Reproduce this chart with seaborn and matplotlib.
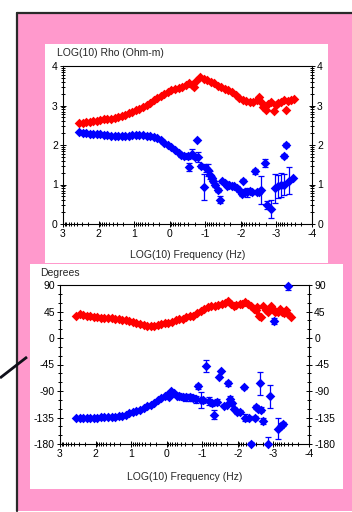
import numpy as np
import pandas as pd
import matplotlib
matplotlib.use("Agg")
import matplotlib.pyplot as plt
import seaborn as sns
from matplotlib.patches import Rectangle
from matplotlib.lines import Line2D
from matplotlib.ticker import FixedLocator, MultipleLocator

# ---------------- data ----------------
# Top panel: LOG(10) apparent resistivity, red mode
rho_red_freq = [2.55, 2.45, 2.35, 2.25, 2.15, 2.05, 1.95, 1.85, 1.75, 1.65, 1.55, 1.45, 1.35,
                1.25, 1.15, 1.05, 0.95, 0.85, 0.75, 0.65, 0.55, 0.45, 0.35, 0.25, 0.15, 0.05,
                -0.05, -0.15, -0.25, -0.35, -0.45, -0.55, -0.62, -0.68, -0.75, -0.85, -0.95,
                -1.05, -1.15, -1.25, -1.35, -1.45, -1.55, -1.65, -1.75, -1.85, -1.95, -2.05,
                -2.15, -2.25, -2.35, -2.45, -2.50, -2.58, -2.62, -2.70, -2.76, -2.85, -2.92,
                -2.98, -3.05, -3.12, -3.20, -3.28, -3.32, -3.40, -3.48]
rho_red = [2.55, 2.56, 2.57, 2.58, 2.60, 2.62, 2.64, 2.65, 2.66, 2.67, 2.68, 2.71, 2.74,
           2.77, 2.80, 2.84, 2.88, 2.92, 2.96, 3.01, 3.07, 3.13, 3.19, 3.24, 3.29, 3.34,
           3.38, 3.42, 3.44, 3.47, 3.52, 3.58, 3.52, 3.48, 3.62, 3.72, 3.68,
           3.64, 3.60, 3.58, 3.50, 3.46, 3.42, 3.38, 3.33, 3.26, 3.18, 3.14,
           3.12, 3.10, 3.08, 3.15, 3.22, 3.08, 2.95, 2.88, 3.05, 3.08, 2.85,
           3.02, 3.06, 3.10, 3.13, 2.88, 3.12, 3.14, 3.16]

# Top panel: blue mode with error bars
rho_blue_freq = [2.55, 2.45, 2.35, 2.25, 2.15, 2.05, 1.95, 1.85, 1.75, 1.65, 1.55, 1.45, 1.35,
                 1.25, 1.15, 1.05, 0.95, 0.85, 0.75, 0.65, 0.55, 0.45, 0.35, 0.25, 0.15, 0.05,
                 -0.05, -0.15, -0.25, -0.32, -0.40, -0.50, -0.55, -0.64, -0.72, -0.76, -0.80,
                 -0.88, -0.97, -1.02, -1.07, -1.13, -1.18, -1.23, -1.27, -1.35, -1.42, -1.48,
                 -1.55, -1.62, -1.68, -1.75, -1.82, -1.88, -1.95, -2.02, -2.07, -2.12, -2.18,
                 -2.25, -2.32, -2.40, -2.45, -2.52, -2.58, -2.68, -2.73, -2.86, -2.96, -3.05,
                 -3.13, -3.20, -3.22, -3.26, -3.34, -3.46]
rho_blue = [2.33, 2.31, 2.30, 2.29, 2.28, 2.28, 2.27, 2.26, 2.25, 2.24, 2.23, 2.23, 2.23,
            2.24, 2.24, 2.25, 2.25, 2.25, 2.25, 2.24, 2.23, 2.21, 2.18, 2.12, 2.06, 2.00,
            1.95, 1.88, 1.80, 1.74, 1.72, 1.72, 1.45, 1.78, 1.70, 2.13, 1.70,
            1.48, 0.93, 1.42, 1.36, 1.25, 1.17, 1.10, 0.99, 0.85, 0.62, 1.08,
            1.05, 0.97, 1.00, 0.95, 0.96, 0.92, 0.85, 0.76, 1.10, 0.82, 0.80,
            0.84, 0.80, 1.33, 0.82, 0.80, 0.86, 1.55, 0.47, 0.38, 0.90, 0.95,
            0.98, 1.00, 1.72, 2.00, 1.10, 1.17]
rho_blue_err = [0, 0, 0, 0, 0, 0, 0, 0, 0, 0, 0, 0, 0,
                0, 0, 0, 0, 0, 0, 0, 0, 0, 0, 0, 0, 0,
                0, 0, 0, 0.05, 0.05, 0.08, 0.10, 0.12, 0.05, 0, 0.12,
                0.05, 0.33, 0.10, 0.15, 0.10, 0.05, 0.05, 0.05, 0.05, 0.08, 0.03,
                0.03, 0.03, 0.03, 0.03, 0.03, 0.03, 0.03, 0.05, 0.04, 0.06, 0.12,
                0.05, 0.05, 0.06, 0.05, 0.05, 0.36, 0.10, 0.10, 0.22, 0.36, 0.30,
                0.30, 0.27, 0.05, 0.05, 0.34, 0]

# Bottom panel: phase (degrees), red mode
ph_red_freq = [2.55, 2.45, 2.35, 2.25, 2.15, 2.05, 1.95, 1.85, 1.75, 1.65, 1.55, 1.45, 1.35,
               1.25, 1.15, 1.05, 0.95, 0.85, 0.75, 0.65, 0.55, 0.45, 0.35, 0.25, 0.15, 0.05,
               -0.05, -0.15, -0.25, -0.35, -0.45, -0.55, -0.65, -0.75, -0.85, -0.95, -1.05,
               -1.15, -1.25, -1.35, -1.45, -1.55, -1.65, -1.72, -1.80, -1.88, -1.95, -2.05,
               -2.12, -2.20, -2.28, -2.36, -2.44, -2.50, -2.55, -2.60, -2.66, -2.72, -2.80,
               -2.86, -2.92, -2.98, -3.05, -3.12, -3.18, -3.25, -3.30, -3.36, -3.42, -3.48]
ph_red = [38, 40, 39, 37.5, 37, 36, 35, 34.5, 34.5, 34, 34, 33, 32,
          31, 30, 28.5, 27, 25, 23.5, 22, 21, 20.5, 21, 22.5, 24, 25,
          26, 28, 30, 31.5, 33, 35, 37, 38, 42, 46, 50,
          52, 54, 55, 56, 57, 60, 63, 57, 55, 56, 57,
          58, 61, 57, 54, 50, 47, 53, 37, 35, 54, 47,
          45, 55, 50, 44, 45, 49, 44, 42, 47, 40, 36]

# Bottom panel: phase (degrees), blue mode with error bars
ph_blue_freq = [2.55, 2.45, 2.35, 2.25, 2.15, 2.05, 1.95, 1.85, 1.75, 1.65, 1.55, 1.45, 1.35,
                1.25, 1.15, 1.05, 0.95, 0.85, 0.75, 0.65, 0.55, 0.45, 0.35, 0.25, 0.15, 0.05,
                -0.02, -0.06, -0.13, -0.20, -0.28, -0.35, -0.45, -0.55, -0.65, -0.75, -0.82,
                -0.89, -0.95, -1.02, -1.11, -1.20, -1.28, -1.34, -1.42, -1.47, -1.54, -1.62,
                -1.70, -1.73, -1.79, -1.84, -1.90, -1.97, -2.07, -2.16, -2.21, -2.30, -2.38,
                -2.47, -2.52, -2.57, -2.61, -2.66, -2.72, -2.84, -2.89, -3.03, -3.12, -3.20,
                -3.26, -3.42]
ph_blue = [-136, -136, -136, -135.5, -135.5, -135.5, -135, -134, -134, -134, -133.5, -133.5, -133,
           -132, -130, -128, -126.5, -124, -121.5, -119, -116, -113, -110, -106, -102, -98,
           -96, -101, -90, -94, -98, -99, -100, -101, -101, -102, -104,
           -82, -105, -106, -48, -107, -110, -130, -109, -67, -56, -115,
           -113, -77, -104, -111, -120, -126, -125, -84, -135, -135, -180,
           -136, -117, -120, -77, -122, -141, -180, -99, 29, -154, -149,
           -146, 88]
ph_blue_err = [0, 0, 0, 0, 0, 0, 0, 0, 0, 0, 0, 0, 0,
               0, 0, 0, 0, 0, 0, 0, 0, 0, 0, 0, 0, 0,
               0, 0, 0, 0, 0, 5, 5, 6, 6, 5, 6,
               4, 14, 4, 10, 6, 5, 8, 5, 0, 0, 3,
               3, 4, 5, 3, 3, 3, 3, 3, 6, 3, 4,
               3, 3, 3, 20, 4, 5, 12, 20, 5, 18, 4,
               3, 6]

freq_ticks = [3, 2, 1, 0, -1, -2, -3, -4]
rho_ticks = [0, 1, 2, 3, 4]
phase_ticks = [-180, -135, -90, -45, 0, 45, 90]

# ---------------- styling ----------------
sns.set_style("white")
plt.rcParams['font.family'] = ['Liberation Sans', 'DejaVu Sans']
plt.rcParams['axes.unicode_minus'] = False

W, H = 352.0, 512.0
RED = '#FF0000'
BLUE = '#0000FF'
PINK = '#FF99CC'
FS = 7.5
MS = 24

fig = plt.figure(figsize=(3.52, 5.12), dpi=100)
fig.patch.set_facecolor('white')


def fx(px):
    return px / W


def fy(py):
    return 1 - py / H


def rect(x0, y0, x1, y1, color, z):
    fig.add_artist(Rectangle((fx(x0), fy(y1)), fx(x1) - fx(x0), fy(y0) - fy(y1),
                             transform=fig.transFigure, facecolor=color,
                             edgecolor='none', zorder=z))


# pink frame with dark border (top and left)
rect(17, 13, 352, 511, PINK, -20)
fig.add_artist(Line2D([fx(17), fx(352)], [fy(13), fy(13)], transform=fig.transFigure,
                      color='#2a2a2a', lw=1.6, zorder=5))
fig.add_artist(Line2D([fx(17), fx(17)], [fy(13), fy(511)], transform=fig.transFigure,
                      color='#2a2a2a', lw=1.6, zorder=5))
# white panels
rect(45, 44, 328, 263, 'white', -10)
rect(30, 264, 343, 489, 'white', -10)
# diagonal pointer line
fig.add_artist(Line2D([fx(0), fx(27)], [fy(378), fy(357)], transform=fig.transFigure,
                      color='#10101a', lw=2.0, zorder=6, solid_capstyle='butt'))

ax1 = fig.add_axes([fx(63), fy(224), fx(312) - fx(63), fy(66) - fy(224)])
ax2 = fig.add_axes([fx(60), fy(444), fx(309) - fx(60), fy(285) - fy(444)])

log_minor_x = [n + np.log10(k) for n in range(-4, 3) for k in range(2, 10)]
log_minor_rho = [n + np.log10(k) for n in range(0, 4) for k in range(2, 10)]


def style_axes(ax):
    ax.set_facecolor('white')
    for sp in ax.spines.values():
        sp.set_visible(True)
        sp.set_color('black')
        sp.set_linewidth(0.8)
    ax.tick_params(which='both', direction='inout', left=True, right=True, bottom=True,
                   top=False, labelleft=True, labelright=True, labelbottom=True,
                   labelsize=FS, colors='black', width=0.7, pad=1.2)
    ax.tick_params(which='major', length=5)
    ax.tick_params(which='minor', length=2.8)
    ax.set_xticks(freq_ticks)
    ax.set_xticklabels([str(t) for t in freq_ticks])
    ax.xaxis.set_minor_locator(FixedLocator(log_minor_x))
    ax.grid(False)


# ---- top panel ----
sns.scatterplot(x=rho_red_freq, y=rho_red, ax=ax1, color=RED, marker='D', s=MS,
                linewidth=0, clip_on=False, legend=False, zorder=3)
rb = pd.DataFrame({'f': rho_blue_freq, 'v': rho_blue, 'e': rho_blue_err})
rbe = rb[rb.e > 0]
ax1.errorbar(rbe.f, rbe.v, yerr=rbe.e, fmt='none', ecolor=BLUE, elinewidth=0.9,
             capsize=2.2, capthick=0.9, zorder=2)
sns.scatterplot(data=rb, x='f', y='v', ax=ax1, color=BLUE, marker='D', s=MS,
                linewidth=0, clip_on=False, legend=False, zorder=3)
ax1.set_xlim(3, -4)
ax1.set_ylim(0, 4)
style_axes(ax1)
ax1.set_yticks(rho_ticks)
ax1.set_yticklabels([str(t) for t in rho_ticks])
ax1.yaxis.set_minor_locator(FixedLocator(log_minor_rho))
ax1.set_ylabel('')
ax1.set_xlabel('LOG(10) Frequency (Hz)', fontsize=FS)
ax1.xaxis.set_label_coords(0.5, (224 - 255) / 158.0)
ax1.xaxis.label.set_va('center')

# ---- bottom panel ----
sns.scatterplot(x=ph_red_freq, y=ph_red, ax=ax2, color=RED, marker='D', s=MS,
                linewidth=0, clip_on=False, legend=False, zorder=3)
pb = pd.DataFrame({'f': ph_blue_freq, 'v': ph_blue, 'e': ph_blue_err})
pbe = pb[pb.e > 0]
ax2.errorbar(pbe.f, pbe.v, yerr=pbe.e, fmt='none', ecolor=BLUE, elinewidth=0.9,
             capsize=2.2, capthick=0.9, zorder=2)
sns.scatterplot(data=pb, x='f', y='v', ax=ax2, color=BLUE, marker='D', s=MS,
                linewidth=0, clip_on=False, legend=False, zorder=3)
ax2.set_xlim(3, -4)
ax2.set_ylim(-180, 90)
style_axes(ax2)
ax2.set_yticks(phase_ticks)
ax2.set_yticklabels([str(t) for t in phase_ticks])
ax2.yaxis.set_minor_locator(MultipleLocator(15))
ax2.set_ylabel('')
ax2.set_xlabel('LOG(10) Frequency (Hz)', fontsize=FS)
ax2.xaxis.set_label_coords(0.5, (444 - 477) / 159.0)
ax2.xaxis.label.set_va('center')

# axis titles
fig.text(fx(57), fy(53), 'LOG(10) Rho (Ohm-m)', ha='left', va='center', fontsize=FS)
fig.text(fx(40), fy(273), 'Degrees', ha='left', va='center', fontsize=FS)

fig.savefig('out.png', dpi=100, facecolor='white')
